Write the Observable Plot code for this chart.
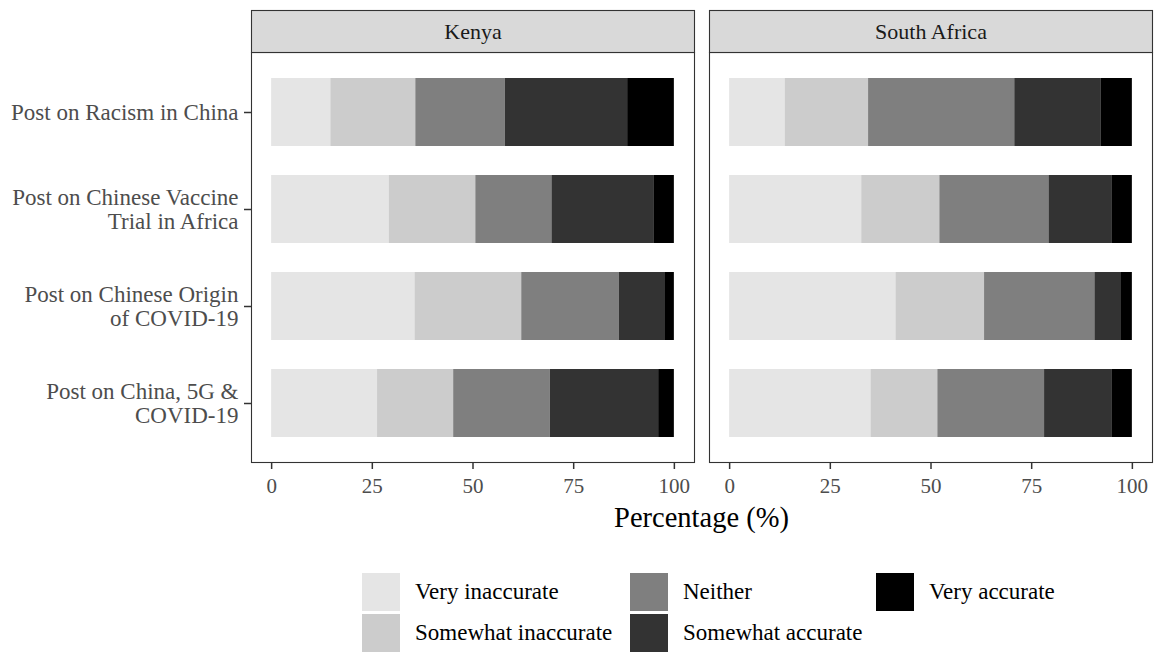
<!DOCTYPE html>
<html>
<head>
<meta charset="utf-8">
<script src="https://cdn.jsdelivr.net/npm/d3@7"></script>
<script src="https://cdn.jsdelivr.net/npm/@observablehq/plot@0.6"></script>
<style>
  body { margin: 0; background: #fff; }
  #wrap { position: relative; width: 1157px; height: 654px; font-family: "Liberation Serif", "Times New Roman", serif; }
  #chart { position: absolute; left: 0; top: 0; }
  #xlabel { position: absolute; left: 251px; width: 901px; top: 501px; text-align: center; font-size: 28.5px; line-height: 34px; color: #000; }
  .sw { position: absolute; width: 38px; height: 38px; }
  .lt { position: absolute; font-size: 23px; line-height: 38px; color: #000; white-space: nowrap; }
</style>
</head>
<body>
<div id="wrap">
  <div id="chart"></div>
  <div id="xlabel">Percentage (%)</div>
  <div id="legend"></div>
</div>
<script>
// ---- data ----
const countries = ["Kenya", "South Africa"];
const posts = [
  "Post on Racism in China",
  "Post on Chinese Vaccine Trial in Africa",
  "Post on Chinese Origin of COVID-19",
  "Post on China, 5G & COVID-19"
];
const postLabels = [
  "Post on Racism in China",
  "Post on Chinese Vaccine\nTrial in Africa",
  "Post on Chinese Origin\nof COVID-19",
  "Post on China, 5G &\nCOVID-19"
];
const responses = ["Very inaccurate", "Somewhat inaccurate", "Neither", "Somewhat accurate", "Very accurate"];
const responseColors = ["#e5e5e5", "#cccccc", "#7f7f7f", "#333333", "#000000"];
const xTicks = [0, 25, 50, 75, 100];
// percentages per post (rows) and response (columns)
const kenyaValues = [
  [14.7, 21.1, 22.2, 30.4, 11.6],
  [29.2, 21.5, 18.9, 25.3, 5.1],
  [35.6, 26.5, 24.2, 11.5, 2.2],
  [26.3, 18.9, 24.0, 26.9, 3.9]
];
const southAfricaValues = [
  [13.8, 20.7, 36.3, 21.5, 7.7],
  [32.8, 19.4, 27.1, 15.6, 5.1],
  [41.3, 22.0, 27.4, 6.6, 2.7],
  [35.1, 16.6, 26.5, 16.7, 5.1]
];

const valuesByCountry = [kenyaValues, southAfricaValues];
const rows = [];
countries.forEach((c, ci) => {
  posts.forEach((p, pi) => {
    responses.forEach((r, ri) => {
      rows.push({country: c, post: p, response: r, value: valuesByCountry[ci][pi][ri]});
    });
  });
});

const W = 1157, H = 535;
const chart = Plot.plot({
  width: W,
  height: H,
  marginTop: 52,
  marginBottom: H - 462,
  marginLeft: 251,
  marginRight: 5,
  style: {fontFamily: "Liberation Serif, Times New Roman, serif", background: "transparent", overflow: "visible"},
  fx: {domain: countries, paddingInner: 15 / 458, paddingOuter: 0, axis: null},
  x: {domain: [-5, 105]},
  y: {domain: posts, paddingInner: 0.3, paddingOuter: 0.25},
  color: {domain: responses, range: responseColors},
  marks: [
    Plot.barX(rows, Plot.stackX({
      fx: "country",
      y: "post",
      x: "value",
      fill: "response",
      order: null
    })),
    Plot.frame({stroke: "#333", strokeWidth: 1.1}),
    Plot.axisX({ticks: xTicks, tickSize: 7, tickPadding: 9, fontSize: 21, fill: "#4d4d4d", stroke: "#333", strokeWidth: 1.5, label: null}),
    Plot.axisY({tickSize: 7, tickPadding: 6, fontSize: 23, fill: "#4d4d4d", stroke: "#333", strokeWidth: 1.5, lineHeight: 1.05,
      tickFormat: d => postLabels[posts.indexOf(d)], label: null})
  ]
});
document.getElementById("chart").appendChild(chart);

// facet strips, positioned from the frames that Plot drew
const svg = d3.select(chart);
const svgBox = chart.getBoundingClientRect();
const frames = Array.from(chart.querySelectorAll('g[aria-label="frame"] rect'))
  .map(r => r.getBoundingClientRect())
  .sort((a, b) => a.left - b.left);
const stripG = svg.append("g").attr("aria-label", "strips");
frames.forEach((b, i) => {
  const x = b.left - svgBox.left, w = b.width, top = b.top - svgBox.top;
  stripG.append("rect")
    .attr("x", x).attr("y", top - 42).attr("width", w).attr("height", 42)
    .attr("fill", "#d9d9d9").attr("stroke", "#333").attr("stroke-width", 1.1);
  stripG.append("text")
    .attr("x", x + w / 2).attr("y", top - 21)
    .attr("text-anchor", "middle").attr("dominant-baseline", "central")
    .attr("font-size", 22).attr("fill", "#1a1a1a")
    .text(countries[i]);
});

// legend (column-major, 2 rows x 3 columns)
const legend = document.getElementById("legend");
const colX = [362, 630, 876];
const rowY = [573, 614];
responses.forEach((r, i) => {
  const col = Math.floor(i / 2), row = i % 2;
  const sw = document.createElement("div");
  sw.className = "sw";
  sw.style.left = colX[col] + "px";
  sw.style.top = rowY[row] + "px";
  sw.style.background = responseColors[i];
  legend.appendChild(sw);
  const t = document.createElement("div");
  t.className = "lt";
  t.style.left = (colX[col] + 53) + "px";
  t.style.top = rowY[row] + "px";
  t.textContent = r;
  legend.appendChild(t);
});
</script>
</body>
</html>
